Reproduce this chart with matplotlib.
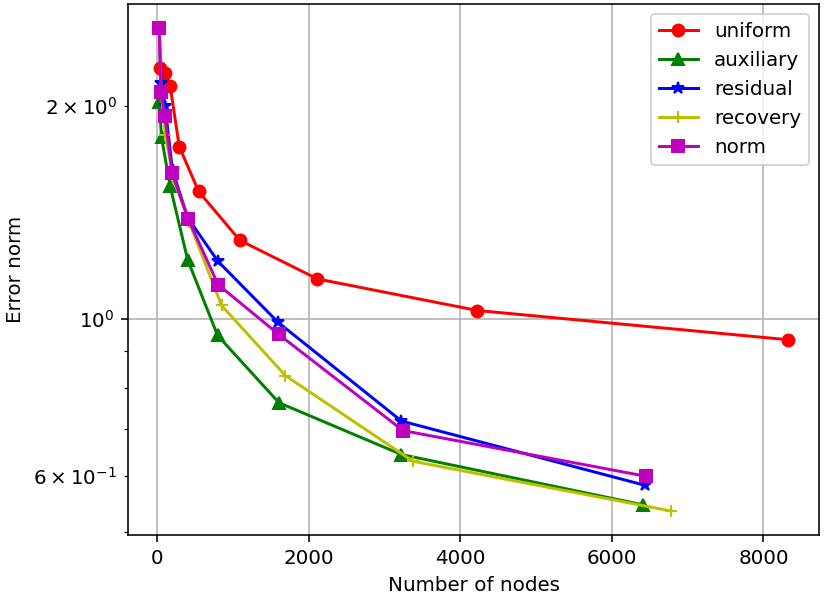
import matplotlib
matplotlib.use('Agg')
import matplotlib.pyplot as plt

# nodes / error norm
uniform_n = [33, 99, 170, 289, 545, 1089, 2113, 4225, 8321]
uniform_err = [2.257, 2.221, 2.128, 1.751, 1.513, 1.291, 1.139, 1.028, 0.935]

auxiliary_n = [25, 55, 170, 400, 795, 1605, 3222, 6410]
auxiliary_err = [2.026, 1.803, 1.538, 1.212, 0.948, 0.762, 0.644, 0.547]

residual_n = [25, 50, 100, 200, 400, 800, 1595, 3222, 6430]
residual_err = [2.57, 2.15, 2.0, 1.62, 1.39, 1.206, 0.989, 0.718, 0.583]

recovery_n = [25, 50, 105, 210, 420, 847, 1691, 3375, 6784]
recovery_err = [2.57, 2.09, 1.82, 1.58, 1.37, 1.045, 0.832, 0.630, 0.536]

norm_n = [25, 45, 99, 195, 406, 802, 1603, 3243, 6454]
norm_err = [2.570, 2.093, 1.936, 1.605, 1.385, 1.118, 0.951, 0.696, 0.600]

DPI = 143
fig = plt.figure(figsize=(830 / DPI, 600 / DPI), dpi=DPI)
ax = fig.add_subplot(111)
fig.subplots_adjust(left=0.154, right=0.987, bottom=0.108, top=0.993)

ax.plot(uniform_n, uniform_err, 'ro-', label='uniform')
ax.plot(auxiliary_n, auxiliary_err, 'g^-', label='auxiliary')
ax.plot(residual_n, residual_err, 'b*-', label='residual')
ax.plot(recovery_n, recovery_err, 'y+-', label='recovery')
ax.plot(norm_n, norm_err, 'ms-', label='norm')

ax.set_yscale('log')
ax.set_xlabel('Number of nodes')
ax.set_ylabel('Error norm')
ax.grid(True)
ax.legend(loc='upper right')

fig.savefig('out.png', dpi=DPI)
